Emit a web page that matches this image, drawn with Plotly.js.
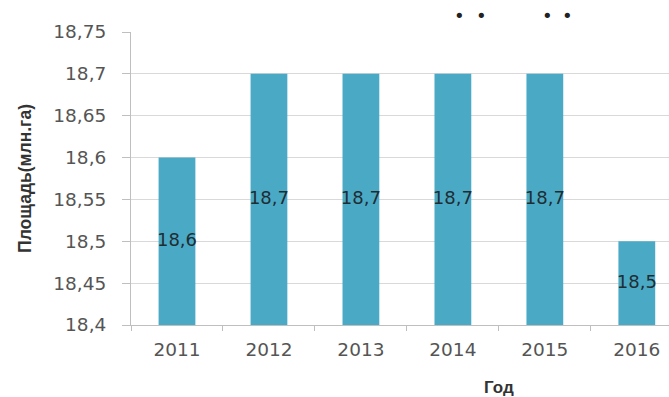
<!DOCTYPE html>
<html>
<head>
<meta charset="utf-8">
<script src="https://cdn.plot.ly/plotly-3.0.1.min.js"></script>
<style>html,body{margin:0;padding:0;background:#fff;}#chart{width:669px;height:397px;}</style>
</head>
<body>
<div id="chart"></div>
<script>
const years = ['2011', '2012', '2013', '2014', '2015', '2016'];
const area = [18.6, 18.7, 18.7, 18.7, 18.7, 18.5];
const barLabels = ['18,6', '18,7', '18,7', '18,7', '18,7', '18,5'];
const yTickVals = [18.4, 18.45, 18.5, 18.55, 18.6, 18.65, 18.7, 18.75];
const yTickText = ['18,4', '18,45', '18,5', '18,55', '18,6', '18,65', '18,7', '18,75'];
const yMin = 18.4, yMax = 18.75;

const traces = [
  {
    type: 'bar', x: years, y: area, base: 0,
    marker: {color: '#4aaac6'}, width: 0.4, hoverinfo: 'skip'
  },
  {
    type: 'scatter', mode: 'text', x: years,
    y: area.map(v => (v + yMin) / 2),
    text: barLabels, textposition: 'middle center',
    textfont: {family: 'DejaVu Sans', size: 18, color: '#1f2d33'},
    hoverinfo: 'skip'
  }
];

const dot = (x) => ({text: '•', xref: 'paper', yref: 'paper', x: x, y: 1.055, xanchor: 'center', yanchor: 'middle', showarrow: false, font: {family: 'DejaVu Sans', size: 18, color: '#222'}});

const layout = {
  width: 669, height: 397,
  margin: {l: 131, r: 0, t: 32, b: 72},
  paper_bgcolor: '#fff', plot_bgcolor: '#fff',
  showlegend: false,
  font: {family: 'DejaVu Sans', color: '#595959'},
  xaxis: {
    type: 'category', range: [-0.5, 5.35],
    showgrid: false, showline: true, linecolor: '#bfbfbf', linewidth: 1,
    ticks: 'outside', tickson: 'boundaries', ticklen: 5, tickcolor: '#bfbfbf',
    tickfont: {family: 'DejaVu Sans', size: 18.5, color: '#555555'},
    ticklabelstandoff: 8, zeroline: false
  },
  yaxis: {
    range: [yMin, yMax], tickvals: yTickVals, ticktext: yTickText,
    showgrid: true, gridcolor: '#d9d9d9', gridwidth: 1,
    showline: true, linecolor: '#bfbfbf', linewidth: 1,
    ticks: 'outside', ticklen: 8, tickcolor: '#bfbfbf',
    tickfont: {family: 'DejaVu Sans', size: 18.5, color: '#555555'},
    ticklabelstandoff: 12, zeroline: false,
    title: {text: 'Площадь(млн.га)', font: {family: 'Liberation Sans', size: 17.5, color: '#333333', weight: 'bold'}, standoff: 17}
  },
  annotations: [
    {text: '<b>Год</b>', xref: 'paper', yref: 'paper', x: 0.684, y: -0.212, xanchor: 'center', yanchor: 'middle', showarrow: false, font: {family: 'Liberation Sans', size: 17, color: '#333333'}},
    dot(0.6115), dot(0.652), dot(0.775), dot(0.812)
  ]
};

Plotly.newPlot('chart', traces, layout, {displayModeBar: false, staticPlot: true});
</script>
</body>
</html>
